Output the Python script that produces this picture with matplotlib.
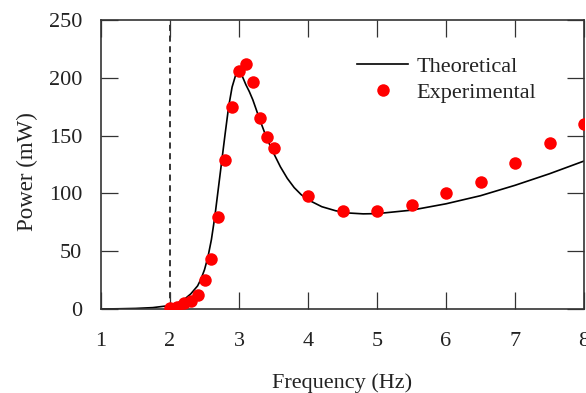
import matplotlib
matplotlib.use("Agg")
import matplotlib.pyplot as plt

# Theoretical curve
theo_f = [1.0, 1.25, 1.5, 1.75, 2.0, 2.1, 2.2, 2.3, 2.4, 2.45, 2.5, 2.55, 2.6, 2.65,
          2.7, 2.75, 2.8, 2.85, 2.9, 2.95, 2.98, 3.0, 3.02, 3.05, 3.1, 3.15, 3.2,
          3.3, 3.4, 3.5, 3.6, 3.7, 3.8, 3.9, 4.0, 4.2, 4.4, 4.6, 4.8, 5.0, 5.5,
          6.0, 6.5, 7.0, 7.5, 8.0]
theo_p = [0.0, 0.2, 0.5, 1.2, 3.0, 5.0, 8.0, 13.0, 20.0, 26.0, 34.0, 45.0, 60.0, 80.0,
          104.0, 128.0, 152.0, 175.0, 192.0, 202.0, 206.0, 207.0, 206.0, 201.0, 194.0, 188.0, 181.0,
          164.0, 148.0, 135.0, 123.0, 113.0, 105.0, 99.0, 94.5, 88.5, 85.0, 83.0, 82.3, 82.5, 85.5,
          91.0, 98.0, 107.0, 117.0, 128.0]

# Experimental points
exp_f = [2.0, 2.1, 2.2, 2.3, 2.4, 2.5, 2.6, 2.7, 2.8, 2.9, 3.0, 3.1, 3.2, 3.3, 3.4, 3.5,
         4.0, 4.5, 5.0, 5.5, 6.0, 6.5, 7.0, 7.5, 8.0]
exp_p = [1.0, 2.0, 5.0, 7.0, 12.0, 25.0, 43.0, 80.0, 129.0, 175.0, 206.0, 212.0, 196.0, 165.0, 149.0, 139.0,
         98.0, 85.0, 85.0, 90.0, 100.0, 110.0, 126.0, 144.0, 160.0]

x_ticks = [1, 2, 3, 4, 5, 6, 7, 8]
y_ticks = [0, 50, 100, 150, 200, 250]

plt.rcParams['font.family'] = ['Liberation Serif', 'DejaVu Serif']

fig = plt.figure(figsize=(5.86, 3.93), dpi=100)
ax = fig.add_axes([101/586, 1 - 309/393, 483/586, 289/393])

ax.axvline(2.0, color='black', lw=1.1, ls=(0, (4, 3)), zorder=1)
ax.plot(theo_f, theo_p, color='black', lw=1.2, label='Theoretical', zorder=2)
ax.plot(exp_f, exp_p, ls='none', marker='o', ms=9, color='#ff0000', mec='none',
        label='Experimental', zorder=3)

ax.set_xlim(1, 8)
ax.set_ylim(0, 250)
ax.set_xticks(x_ticks)
ax.set_yticks(y_ticks)
ax.tick_params(direction='in', length=12, width=0.9, colors='#333333', labelcolor='#222222',
               labelsize=16, top=True, right=True)
ax.tick_params(axis='x', pad=16.5)
ax.tick_params(axis='y', pad=13.5)
for s in ax.spines.values():
    s.set_color('#333333')
    s.set_linewidth(1.2)

ax.set_xlabel('Frequency (Hz)', fontsize=16, color='#222222', labelpad=16)
ax.set_ylabel('Power (mW)', fontsize=16.5, color='#222222', labelpad=8, y=0.475)

leg = ax.legend(loc='upper left', bbox_to_anchor=(0.530, 0.875), frameon=False, fontsize=16,
                handlelength=2.3, handletextpad=0.36, labelspacing=0.27, borderaxespad=0,
                borderpad=0)
for t in leg.get_texts():
    t.set_color('#222222')

fig.savefig('out.png', dpi=100)
